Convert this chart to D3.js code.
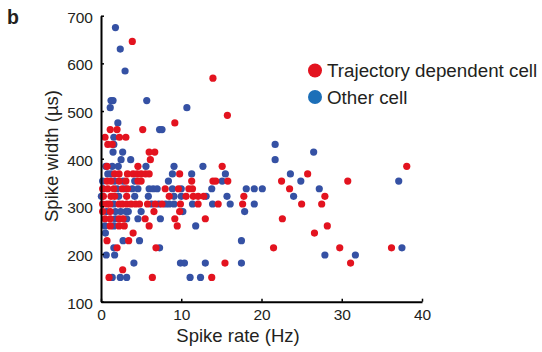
<!DOCTYPE html>
<html>
<head>
<meta charset="utf-8">
<script src="https://cdn.jsdelivr.net/npm/d3@7"></script>
<style>
  html, body { margin: 0; padding: 0; background: #fff; }
  svg { display: block; }
  text { font-family: "Liberation Sans", Arial, Helvetica, sans-serif; fill: #231f20; }
</style>
</head>
<body>
<svg id="chart" width="542" height="352"></svg>
<script>
// ---------- data ----------
const xTicks = [0, 10, 20, 30, 40];
const yTicks = [100, 200, 300, 400, 500, 600, 700];
const seriesNames = ["Trajectory dependent cell", "Other cell"];

// Other cell: [spike rate (Hz), spike width (µs)]
const otherCells = [
  [1.8, 675], [2.4, 630], [3.0, 584], [1.25, 522], [1.5, 522], [1.15, 507], [5.7, 522], [10.7, 507],
  [2.1, 475], [7.3, 461], [7.6, 461], [1.6, 445], [1.6, 430], [1.5, 414], [2.7, 414], [2.5, 398],
  [3.7, 398], [21.7, 430], [21.7, 398], [26.5, 414], [12.7, 384], [9.1, 384], [15.5, 368], [11.3, 368],
  [23.6, 368], [24.9, 353], [37.1, 353], [15.1, 353], [8.4, 353], [27.2, 337], [18.1, 337], [19.1, 337],
  [20.1, 337], [13.8, 337], [13.1, 321], [15.7, 321], [24.0, 321], [16.1, 305], [19.1, 305], [13.9, 305],
  [11.4, 305], [17.9, 289], [10.2, 289], [5.0, 289], [11.8, 259], [7.4, 274], [4.6, 274], [0.5, 259],
  [0.55, 244], [17.5, 228], [4.8, 228], [2.75, 228], [1.6, 213], [7.3, 213], [37.5, 213], [0.65, 198],
  [1.7, 198], [27.9, 198], [31.7, 198], [4.1, 181], [9.9, 181], [10.4, 181], [13.0, 181], [17.5, 181],
  [1.4, 151], [2.4, 151], [3.2, 151], [11.1, 151], [12.4, 151],
  [0.6, 384], [1.4, 384], [2.15, 384], [5.6, 384],
  [0.85, 368], [1.25, 368], [8.9, 368],
  [0.2, 353], [1.7, 353], [2.75, 353], [4.2, 353],
  [0.3, 337], [2.0, 337], [3.0, 337], [3.9, 337], [4.6, 337], [6.0, 337], [6.5, 337], [7.0, 337], [8.9, 337], [10.0, 337],
  [0.05, 321], [2.2, 321], [4.2, 321], [5.9, 321], [9.1, 321], [10.0, 321],
  [1.6, 305], [6.3, 305], [7.2, 305], [8.05, 305], [8.5, 305], [9.1, 305],
  [0.7, 289], [1.8, 289], [2.45, 289], [3.1, 289], [3.4, 289],
  [1.8, 274], [3.2, 274], [1.6, 259]
];

// Trajectory dependent cell: [spike rate (Hz), spike width (µs)]
const trajectoryCells = [
  [3.9, 646], [13.95, 569], [15.75, 491], [9.2, 475], [5.2, 461], [1.15, 461], [2.0, 461],
  [0.5, 445], [2.3, 445], [3.1, 445], [0.85, 430], [1.4, 430], [6.0, 414], [6.7, 414], [6.15, 398],
  [38.1, 384], [15.1, 384], [4.6, 384], [0.75, 384],
  [25.75, 368], [9.8, 368], [1.7, 368], [2.25, 368], [3.3, 368], [4.0, 368], [4.5, 368], [5.0, 368], [5.55, 368], [6.0, 368],
  [30.75, 353], [22.5, 353], [15.8, 353], [13.95, 353], [14.3, 353], [11.3, 353],
  [0.75, 353], [1.25, 353], [2.25, 353], [3.1, 353], [4.6, 353], [5.0, 353],
  [23.5, 337], [11.4, 337], [10.95, 337], [9.65, 337], [8.0, 337],
  [0.2, 337], [0.85, 337], [1.6, 337], [2.65, 337], [3.3, 337],
  [27.9, 321], [17.8, 321], [11.5, 321], [12.1, 321], [12.8, 321], [10.6, 321], [8.5, 321],
  [0.3, 321], [1.25, 321], [1.7, 321], [3.2, 321],
  [25.0, 305], [27.5, 305], [17.65, 305], [14.6, 305], [12.1, 305], [9.9, 305], [7.6, 305], [6.75, 305], [5.8, 305],
  [0.2, 305], [0.75, 305], [1.1, 305], [2.25, 305], [2.65, 305], [3.2, 305], [3.75, 305], [4.3, 305], [4.8, 305],
  [0.2, 289], [1.15, 289], [6.6, 289], [9.8, 289],
  [0.5, 274], [1.15, 274], [2.25, 274], [2.75, 274], [5.5, 274], [9.2, 274], [13.0, 274], [22.6, 274],
  [1.15, 259], [2.25, 259], [2.9, 259], [6.0, 259], [9.5, 259], [28.2, 259],
  [26.6, 244], [4.0, 244], [3.45, 228], [0.75, 228],
  [2.0, 213], [6.85, 213], [21.5, 213], [29.75, 213], [36.2, 213],
  [15.45, 181], [31.1, 181], [2.7, 167], [1.0, 151], [6.4, 151], [13.8, 151]
];

// ---------- drawing ----------
const svg = d3.select("#chart");
const RED = "#e3131f", BLUE = "#3551a4", LEGEND_BLUE = "#1c6fb8";

const x = d3.scaleLinear().domain([0, 40]).range([101, 422]);
const y = d3.scaleLinear().domain([100, 700]).range([301.7, 15.7]);

// points
const pts = svg.append("g");
pts.selectAll("circle.other").data(otherCells).join("circle")
  .attr("class", "other")
  .attr("cx", d => x(d[0])).attr("cy", d => y(d[1])).attr("r", 3.6)
  .attr("fill", BLUE);
pts.selectAll("circle.traj").data(trajectoryCells).join("circle")
  .attr("class", "traj")
  .attr("cx", d => x(d[0])).attr("cy", d => y(d[1])).attr("r", 3.6)
  .attr("fill", RED);

// axes
const xAxis = d3.axisBottom(x).tickValues(xTicks).tickSizeInner(-3).tickSizeOuter(0).tickPadding(7);
const yAxis = d3.axisLeft(y).tickValues(yTicks).tickSizeInner(-3).tickSizeOuter(0).tickPadding(8);

const gx = svg.append("g").attr("transform", `translate(0,${y(100)})`).call(xAxis);
const gy = svg.append("g").attr("transform", `translate(${x(0)},0)`).call(yAxis);

[gx, gy].forEach(g => {
  g.select(".domain").attr("stroke", "#000").attr("stroke-width", 2);
  g.selectAll(".tick line").attr("stroke", "#000").attr("stroke-width", 1.5);
  g.selectAll(".tick text").attr("font-size", 15.5).attr("fill", "#231f20")
    .style("font-family", "'Liberation Sans', Arial, sans-serif");
});
gy.selectAll(".tick text").attr("dy", "0.42em");

// axis titles
svg.append("text").attr("x", 238).attr("y", 341.5).attr("text-anchor", "middle")
  .attr("font-size", 18.5).text("Spike rate (Hz)");
svg.append("text").attr("transform", "translate(57.5,156) rotate(-90)").attr("text-anchor", "middle")
  .attr("font-size", 18.5).text("Spike width (µs)");

// panel letter
svg.append("text").attr("x", 7).attr("y", 24).attr("font-size", 19.5).attr("font-weight", "bold").text("b");

// legend
const legendColors = [RED, LEGEND_BLUE];
const lg = svg.append("g");
seriesNames.forEach((name, i) => {
  const cy = 70.5 + i * 26.5;
  lg.append("circle").attr("cx", 315).attr("cy", cy).attr("r", 7).attr("fill", legendColors[i]);
  lg.append("text").attr("x", 327).attr("y", cy + 6.5).attr("font-size", 18.8).text(name);
});
</script>
</body>
</html>
